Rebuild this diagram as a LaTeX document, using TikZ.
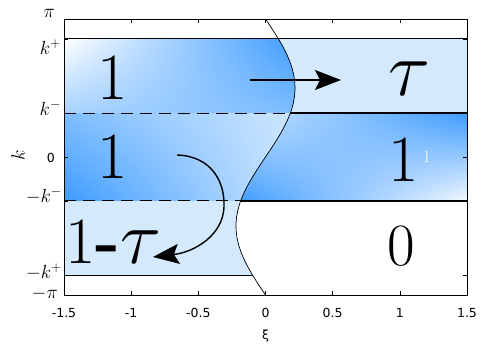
\documentclass[tikz,border=0pt]{standalone}
\usepackage{fix-cm}
\usepackage{fontspec}
\newfontfamily\ticksans{DejaVu Sans}
\usepackage{tikz}
\usetikzlibrary{arrows.meta,shadings}
\definecolor{banddeep}{HTML}{3D9BFF}
\definecolor{bandmid}{HTML}{7FBEFF}
\definecolor{bandsoft}{HTML}{A8D3FF}
\definecolor{bandpale}{HTML}{CDE6FF}
\definecolor{bandlight}{HTML}{D5E9FD}
\definecolor{bandwhite}{HTML}{F2F8FF}

\begin{document}
\begin{tikzpicture}[
    x=134.33pt, y=43.93pt, samples=40,
    edge/.style={line width=1.3pt},
    halfedge/.style={line width=1pt, dash pattern=on 12pt off 7pt},
    bandlabel/.style={font=\fontsize{66}{70}\selectfont, inner sep=0pt, anchor=base},
    ticklabel/.style={font=\ticksans\fontsize{12.5}{14}\selectfont, inner sep=0pt},
    klabel/.style={font=\fontsize{19}{22}\selectfont, inner sep=0pt, anchor=east},
    flow/.style={line width=1.6pt, -{Stealth[length=26pt, width=20pt, inset=5pt]}}
]
    \useasboundingbox (-1.9765,-4.302) rectangle (1.6043,3.574);

    % Bands of the occupation
    \fill[bandlight] (-1.5,-2.69) -- (-1.5,-1) -- plot[domain=-1:-2.69] ({0.22*sin(\x r)},\x) -- cycle;
    \fill[bandlight] (1.5,1) -- (1.5,2.69) -- plot[domain=2.69:1] ({0.22*sin(\x r)},\x) -- cycle;
    \begin{scope}
        \clip (-1.5,1) -- (-1.5,2.69) -- plot[domain=2.69:1] ({0.22*sin(\x r)},\x) -- cycle;
        \shade[upper left=white, upper right=banddeep, lower left=bandsoft, lower right=bandmid] (-1.5,1) rectangle (0.22,2.69);
    \end{scope}
    \begin{scope}
        \clip (-1.5,-1) -- (-1.5,1) -- plot[domain=1:-1] ({0.22*sin(\x r)},\x) -- cycle;
        \shade[upper left=bandmid, upper right=bandpale, lower left=banddeep, lower right=bandpale] (-1.5,-1) rectangle (0.22,1);
    \end{scope}
    \begin{scope}
        \clip (1.5,-1) -- (1.5,1) -- plot[domain=1:-1] ({0.22*sin(\x r)},\x) -- cycle;
        \shade[upper left=bandpale, upper right=banddeep, lower left=banddeep, lower right=bandwhite] (-0.22,-1) rectangle (1.5,1);
    \end{scope}

    % Band edges
    \draw[edge] (-1.5,2.69) -- (1.5,2.69);
    \draw[halfedge] (-1.5,1) -- (0.185,1);
    \draw[edge] (0.185,1) -- (1.5,1);
    \draw[halfedge] (-1.5,-1) -- (-0.185,-1);
    \draw[edge] (-0.185,-1) -- (1.5,-1);
    \draw[edge] (-1.5,-2.69) -- (-0.096,-2.69);
    \draw[line width=0.7pt] plot[domain=-3.14159:3.14159] ({0.22*sin(\x r)},\x);

    % Frame and ticks
    \draw[line width=0.9pt] (-1.5,-3.14159) rectangle (1.5,3.14159);
    \foreach \t in {-1,-0.5,0,0.5,1} {
        \draw (\t,-3.14159) -- ++(0,0.09);
        \draw (\t,3.14159) -- ++(0,-0.09);
    }
    \foreach \k in {2.69,1,0,-1,-2.69} {
        \draw (-1.5,\k) -- ++(0.03,0);
        \draw (1.5,\k) -- ++(-0.03,0);
    }
    \foreach \t [count=\i] in {-1.5,-1,-0.5,0,0.5,1,1.5}
        \node[ticklabel] (xtick\i) at (\t,-3.551) {\t};
    \node[ticklabel] (xiaxis) at (0,-4.075) {ξ};

    \node[klabel] (ypi) at (-1.567,3.267) {$\pi$};
    \node[klabel] (ykp) at (-1.522,2.493) {$k^+$};
    \node[klabel] (ykm) at (-1.522,1.115) {$k^-$};
    \node[ticklabel, anchor=east] (yzero) at (-1.567,-0.023) {0};
    \node[klabel] (ymkm) at (-1.515,-0.888) {$-k^-$};
    \node[klabel] (ymkp) at (-1.515,-2.618) {$-k^+$};
    \node[klabel] (ympi) at (-1.545,-3.119) {$-\pi$};
    \node[klabel, rotate=90, anchor=center] (kaxis) at (-1.8425,0.0455) {$k$};

    % Occupations
    \node[bandlabel] (onetop) at (-1.135,1.30) {1};
    \node[bandlabel, font=\fontsize{78}{80}\selectfont] (tautop) at (1.068,1.411) {$\tau$};
    \node[bandlabel] (onemidl) at (-1.135,-0.5) {1};
    \node[bandlabel] (onemidr) at (1.031,-0.569) {1};
    \node[font=\fontsize{17}{18}\selectfont, text=white, inner sep=0pt] (ghost) at (1.2,0) {1};
    \node[bandlabel, font=\fontsize{60}{64}\selectfont] (zerolow) at (1.0087,-2.48) {0};
    \node[bandlabel, anchor=base west] (onetau) at (-1.49,-2.413) {1\textbf{-}{\fontsize{76}{80}\selectfont$\tau$}};

    % Flow arrows
    \coordinate (pushfrom) at (-0.1154,1.753);
    \coordinate (pushto) at (0.562,1.753);
    \draw[flow] (pushfrom) -- (pushto);
    \coordinate (swirlfrom) at (-0.659,0.0455);
    \coordinate (swirlmid) at (-0.309,-1.138);
    \coordinate (swirlto) at (-0.8375,-2.276);
    \draw[flow, line width=1.4pt] (swirlfrom) .. controls (-0.413,0.023) and (-0.3015,-0.5236) .. (swirlmid)
        .. controls (-0.3164,-1.7756) and (-0.5248,-2.1625) .. (swirlto);
\end{tikzpicture}
\end{document}
